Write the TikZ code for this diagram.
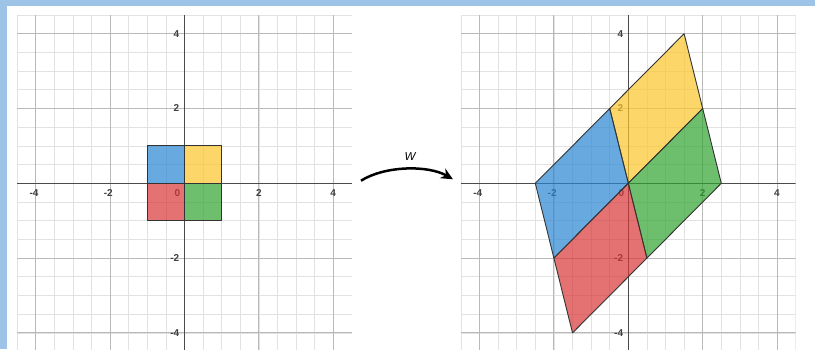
\documentclass[tikz,border=0pt]{standalone}
\usepackage{fontspec}
\setmainfont{Liberation Sans}
\usetikzlibrary{arrows.meta}
\definecolor{framebl}{RGB}{157,195,230}
\definecolor{minorg}{RGB}{226,226,226}
\definecolor{majorg}{RGB}{185,185,185}
\definecolor{axisg}{RGB}{75,75,75}
\definecolor{pblue}{RGB}{41,134,212}
\definecolor{pyellow}{RGB}{252,198,41}
\definecolor{pgreen}{RGB}{48,165,48}
\definecolor{pred}{RGB}{217,55,55}
\tikzset{
  minorline/.style={draw=minorg, line width=0.8pt},
  majorline/.style={draw=majorg, line width=1pt},
  axisline/.style={draw=axisg, line width=1.4pt},
  ticklab/.style={font=\bfseries\fontsize{10}{11}\selectfont, text=black!75, inner sep=0pt},
  region/.style={draw=black!80, line width=0.9pt, fill opacity=0.7, line join=round},
}
\newcommand{\myplane}{%
  \begin{scope}
  \clip (-4.5,-4.5) rectangle (4.5,4.5);
  \foreach \i in {-4.5,-4,...,4.5} {
    \draw[minorline] (\i,-4.5) -- (\i,4.5);
    \draw[minorline] (-4.5,\i) -- (4.5,\i);
  }
  \foreach \i in {-4,-2,2,4} {
    \draw[majorline] (\i,-4.5) -- (\i,4.5);
    \draw[majorline] (-4.5,\i) -- (4.5,\i);
  }
  \draw[axisline] (-4.5,0) -- (4.5,0);
  \draw[axisline] (0,-4.5) -- (0,4.5);
  \end{scope}
  \foreach \i/\n in {-4/a,-2/b,2/c,4/d} {
    \node[ticklab, anchor=north east] (x\n) at ([xshift=2.9pt,yshift=-6pt]\i,0) {\i};
    \node[ticklab, anchor=east] (y\n) at ([xshift=-5pt]0,\i) {\i};
  }
  \node[ticklab, anchor=north east] (zero) at ([xshift=-4pt,yshift=-6pt]0,0) {0};
}
\begin{document}
\begin{tikzpicture}[x=1pt,y=1pt]
\useasboundingbox (0,0) rectangle (815,349);
\fill[white] (0,0) rectangle (815,349);
\begin{scope}
\clip (0,0) rectangle (815,349);
% left plane
\begin{scope}[shift={(184.5,165.7)}, x=37.2pt, y=37.4pt]
  \myplane
  \filldraw[region, fill=pblue] (-1,0) rectangle (0,1);
  \filldraw[region, fill=pyellow] (0,0) rectangle (1,1);
  \filldraw[region, fill=pred] (-1,-1) rectangle (0,0);
  \filldraw[region, fill=pgreen] (0,-1) rectangle (1,0);
\end{scope}
% right plane
\begin{scope}[shift={(628.3,165.7)}, x=37.2pt, y=37.4pt]
  \myplane
  \filldraw[region, fill=pyellow] (0,0) -- (2,2) -- (1.5,4) -- (-0.5,2) -- cycle;
  \filldraw[region, fill=pgreen] (0,0) -- (2,2) -- (2.5,0) -- (0.5,-2) -- cycle;
  \filldraw[region, fill=pblue] (0,0) -- (-0.5,2) -- (-2.5,0) -- (-2,-2) -- cycle;
  \filldraw[region, fill=pred] (0,0) -- (-2,-2) -- (-1.5,-4) -- (0.5,-2) -- cycle;
\end{scope}
\end{scope}
% frame bands
\fill[framebl] (0,343) rectangle (815,349);
\fill[framebl] (0,0) rectangle (7,349);
% transformation arrow
\coordinate (arrS) at (361,168.3);
\coordinate (arrE) at (453,169.7);
\draw[line width=2.5pt, -{Stealth[length=12pt,width=11pt]}] (arrS) .. controls (385,183.4) and (428,184) .. (arrE);
\node[font=\itshape\fontsize{11.5}{13}\selectfont, inner sep=0pt] (wlab) at (410,192) {W};
\end{tikzpicture}
\end{document}
